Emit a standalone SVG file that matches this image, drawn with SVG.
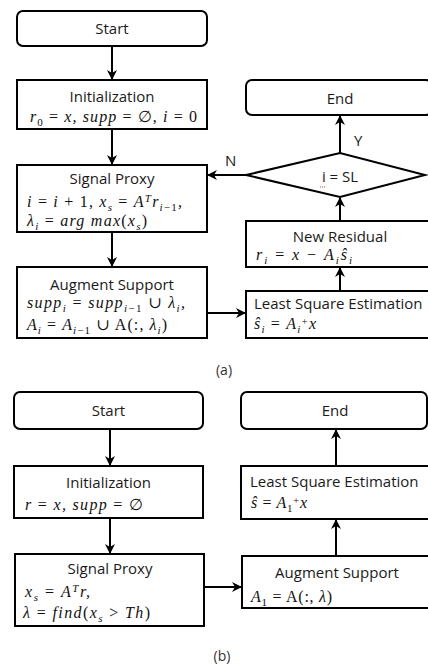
<svg xmlns="http://www.w3.org/2000/svg" width="428" height="666" viewBox="0 0 428 666">
<style>
.box{fill:#fff;stroke:#000;stroke-width:2}
.ln{fill:none;stroke:#000;stroke-width:2}
.t{font-family:"Open Sans","Noto Sans",sans-serif;font-size:15px;fill:#1a1a1a}
.c{text-anchor:middle}
.m{font-family:"Liberation Serif","DejaVu Serif",serif;font-size:16px;font-style:italic;fill:#111}
.u{font-style:normal}
.s{font-size:11px}
.cap{font-family:"Open Sans","Noto Sans",sans-serif;font-size:14px;fill:#333;text-anchor:middle}
</style>
<defs>
<marker id="ah" viewBox="0 0 10 10" refX="9" refY="5" markerWidth="10" markerHeight="10" markerUnits="userSpaceOnUse" orient="auto">
<path d="M0,0 L10,5 L0,10 L3,5 z" fill="#000"/>
</marker>
</defs>

<g id="connectors">
<line class="ln" x1="112" y1="46" x2="112" y2="79" marker-end="url(#ah)"/>
<line class="ln" x1="112" y1="129" x2="112" y2="164" marker-end="url(#ah)"/>
<line class="ln" x1="112" y1="232" x2="112" y2="266" marker-end="url(#ah)"/>
<line class="ln" x1="207" y1="313" x2="245" y2="313" marker-end="url(#ah)"/>
<line class="ln" x1="340" y1="291" x2="340" y2="268" marker-end="url(#ah)"/>
<line class="ln" x1="340" y1="221" x2="340" y2="198" marker-end="url(#ah)"/>
<line class="ln" x1="340" y1="153" x2="340" y2="116" marker-end="url(#ah)"/>
<line class="ln" x1="246" y1="175" x2="208" y2="175" marker-end="url(#ah)"/>
<text class="t" x="354" y="146">Y</text>
<text class="t" x="225" y="166">N</text>

<line class="ln" x1="110" y1="429" x2="110" y2="465" marker-end="url(#ah)"/>
<line class="ln" x1="110" y1="518" x2="110" y2="553" marker-end="url(#ah)"/>
<line class="ln" x1="204" y1="587" x2="241" y2="587" marker-end="url(#ah)"/>
<line class="ln" x1="336" y1="556" x2="336" y2="520" marker-end="url(#ah)"/>
<line class="ln" x1="336" y1="466" x2="336" y2="430" marker-end="url(#ah)"/>
</g>

<!-- (a) -->
<g id="a_start">
<rect class="box" x="17" y="11" width="190" height="35" rx="6"/>
<text class="t c" x="112" y="34">Start</text>
</g>
<g id="a_init">
<rect class="box" x="17" y="80" width="190" height="49"/>
<text class="t c" x="112" y="102">Initialization</text>
<text class="m" x="30" y="122" textLength="167">r<tspan class="s u" dy="4">0</tspan><tspan class="u" dy="-4"> = </tspan>x,  supp<tspan class="u"> = ∅, </tspan> i<tspan class="u"> = 0</tspan></text>
</g>
<g id="a_proxy">
<rect class="box" x="17" y="165" width="190" height="67"/>
<text class="t c" x="112" y="184">Signal Proxy</text>
<text class="m" x="27" y="207" textLength="155">i<tspan class="u"> = </tspan>i<tspan class="u"> + 1, </tspan> x<tspan class="s" dy="4">s</tspan><tspan class="u" dy="-4"> = </tspan>A<tspan class="s" dy="-5">T</tspan><tspan dy="5">r</tspan><tspan class="s" dy="4">i<tspan class="u">−1</tspan></tspan><tspan dy="-4">,</tspan></text>
<text class="m" x="27" y="226" textLength="120">λ<tspan class="s" dy="4">i</tspan><tspan class="u" dy="-4"> = </tspan>arg max<tspan class="u">(</tspan>x<tspan class="s" dy="4">s</tspan><tspan class="u" dy="-4">)</tspan></text>
</g>
<g id="a_augment">
<rect class="box" x="17" y="267" width="190" height="71"/>
<text class="t c" x="112" y="290">Augment Support</text>
<text class="m" x="27" y="308" textLength="158">supp<tspan class="s" dy="4">i</tspan><tspan class="u" dy="-4"> = </tspan>supp<tspan class="s" dy="4">i<tspan class="u">−1</tspan></tspan><tspan class="u" dy="-4"> ∪ </tspan>λ<tspan class="s" dy="4">i</tspan><tspan dy="-4">,</tspan></text>
<text class="m" x="27" y="330" textLength="140">A<tspan class="s" dy="4">i</tspan><tspan class="u" dy="-4"> = </tspan>A<tspan class="s" dy="4">i<tspan class="u">−1</tspan></tspan><tspan class="u" dy="-4"> ∪ A(:, </tspan>λ<tspan class="s" dy="4">i</tspan><tspan class="u" dy="-4">)</tspan></text>
</g>
<g id="a_lse">
<rect class="box" x="246" y="291" width="184" height="47"/>
<text class="t" x="254" y="309">Least Square Estimation</text>
<text class="m" x="254" y="329" textLength="62">ŝ<tspan class="s" dy="4">i</tspan><tspan class="u" dy="-4"> = </tspan>A<tspan class="s" dy="4">i</tspan><tspan class="s u" dy="-8">+</tspan><tspan dy="4">x</tspan></text>
</g>
<g id="a_residual">
<rect class="box" x="246" y="221" width="184" height="46"/>
<text class="t c" x="340" y="242">New Residual</text>
<text class="m" x="256" y="260" textLength="96">r<tspan class="s" dy="4">i</tspan><tspan class="u" dy="-4"> = </tspan>x<tspan class="u"> − </tspan>A<tspan class="s" dy="4">i</tspan><tspan dy="-4">ŝ</tspan><tspan class="s" dy="4">i</tspan></text>
</g>
<g id="a_decision">
<polygon class="box" points="246,175 340,153 425,175 340,197"/>
<text class="t c" x="340" y="182">i = SL</text>
<path d="M320,187 h5" stroke="#e05050" stroke-width="1" stroke-dasharray="1,1"/>
</g>
<g id="a_end">
<rect class="box" x="246" y="80" width="186" height="35" rx="6"/>
<text class="t c" x="340" y="104">End</text>
</g>
<text class="cap" x="224" y="375">(a)</text>

<!-- (b) -->
<g id="b_start">
<rect class="box" x="14" y="392" width="189" height="37" rx="6"/>
<text class="t c" x="108.5" y="416">Start</text>
</g>
<g id="b_init">
<rect class="box" x="14" y="466" width="189" height="52"/>
<text class="t c" x="108.5" y="488">Initialization</text>
<text class="m" x="25" y="510" textLength="118">r<tspan class="u"> = </tspan>x,  supp<tspan class="u"> = ∅</tspan></text>
</g>
<g id="b_proxy">
<rect class="box" x="15" y="554" width="189" height="72"/>
<text class="t c" x="110" y="574">Signal Proxy</text>
<text class="m" x="25" y="597" textLength="65">x<tspan class="s" dy="4">s</tspan><tspan class="u" dy="-4"> = </tspan>A<tspan class="s" dy="-5">T</tspan><tspan dy="5">r,</tspan></text>
<text class="m" x="23" y="618" textLength="127">λ<tspan class="u"> = </tspan>find<tspan class="u">(</tspan>x<tspan class="s" dy="4">s</tspan><tspan class="u" dy="-4"> &gt; </tspan>Th<tspan class="u">)</tspan></text>
</g>
<g id="b_augment">
<rect class="box" x="242" y="556" width="188" height="52"/>
<text class="t c" x="337" y="578">Augment Support</text>
<text class="m" x="251" y="602" textLength="81">A<tspan class="s u" dy="4">1</tspan><tspan class="u" dy="-4"> = A(:, </tspan>λ<tspan class="u">)</tspan></text>
</g>
<g id="b_lse">
<rect class="box" x="241" y="466" width="189" height="53"/>
<text class="t" x="250" y="487">Least Square Estimation</text>
<text class="m" x="251" y="508" textLength="56">ŝ<tspan class="u"> = </tspan>A<tspan class="s u" dy="4">1</tspan><tspan class="s u" dy="-8">+</tspan><tspan dy="4">x</tspan></text>
</g>
<g id="b_end">
<rect class="box" x="241" y="392" width="186" height="37" rx="6"/>
<text class="t c" x="335" y="416">End</text>
</g>
<text class="cap" x="222" y="661">(b)</text>
</svg>
